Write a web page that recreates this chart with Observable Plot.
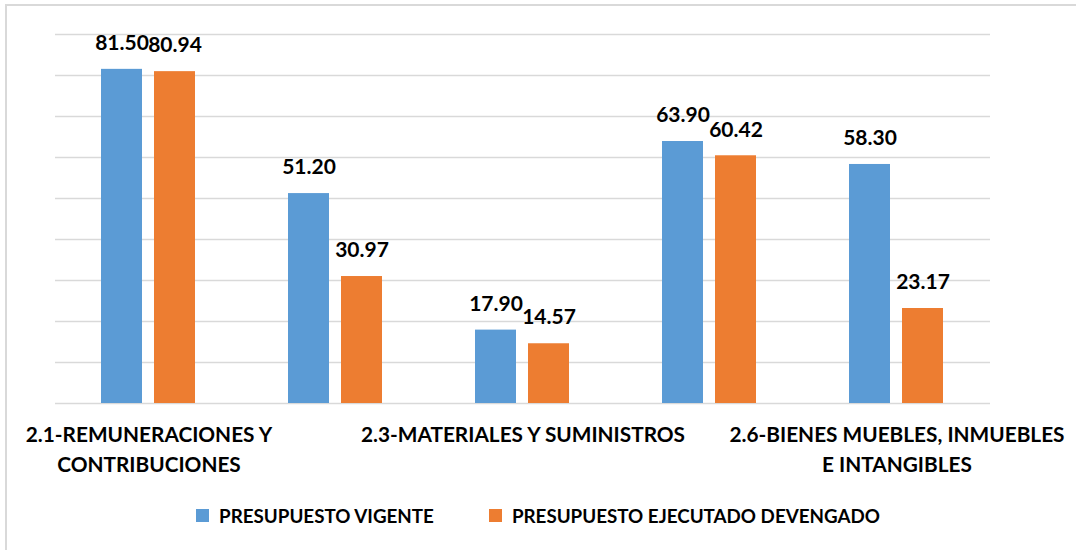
<!DOCTYPE html>
<html>
<head>
<meta charset="utf-8">
<script src="https://cdn.jsdelivr.net/npm/d3@7"></script>
<script src="https://cdn.jsdelivr.net/npm/@observablehq/plot@0.6"></script>
<style>
  html, body { margin: 0; padding: 0; background: #fff; }
  body { width: 1076px; height: 550px; position: relative; overflow: hidden; font-family: Lato, sans-serif; }
  #frame { position: absolute; left: 5px; top: 4px; width: 1200px; height: 700px;
           border-top: 2px solid #d9d9d9; border-left: 2px solid #d9d9d9; pointer-events: none; }
  #chart { position: absolute; left: 0; top: 0; }
  #legend { position: absolute; left: 0; top: 504px; width: 1076px; display: flex; justify-content: center;
            gap: 55px; font-weight: bold; font-size: 18.8px; color: #000; }
  .item { display: flex; align-items: center; gap: 10px; }
  .sw { width: 13px; height: 13px; display: inline-block; }
</style>
</head>
<body>
<div id="chart"></div>
<div id="legend"></div>
<div id="frame"></div>
<script>
const categories = ["2.1", "2.2", "2.3", "2.5", "2.6"];
const tickLabels = [
  "2.1-REMUNERACIONES Y\nCONTRIBUCIONES",
  "",
  "2.3-MATERIALES Y SUMINISTROS",
  "",
  "2.6-BIENES MUEBLES, INMUEBLES\nE INTANGIBLES"
];
const series = ["PRESUPUESTO VIGENTE", "PRESUPUESTO EJECUTADO DEVENGADO"];
const vigente = [81.50, 51.20, 17.90, 63.90, 58.30];
const devengado = [80.94, 30.97, 14.57, 60.42, 23.17];
const colors = ["#5B9BD5", "#ED7D31"];
const yTicks = [0, 10, 20, 30, 40, 50, 60, 70, 80, 90];

const data = categories.flatMap((c, i) => [
  {category: c, series: series[0], value: vigente[i]},
  {category: c, series: series[1], value: devengado[i]}
]);

const fmt = d3.format(".2f");

const chart = Plot.plot({
  width: 1076,
  height: 490,
  marginLeft: 53,
  marginRight: 84,
  marginTop: 34,
  marginBottom: 87,
  style: {fontFamily: "Lato, sans-serif", background: "transparent"},
  fx: {domain: categories, padding: 0, label: null, axis: null},
  x: {domain: series, paddingInner: 0.222, paddingOuter: 0.85, axis: null},
  y: {domain: [0, 90], axis: null},
  color: {domain: series, range: colors},
  marks: [
    Plot.gridY(yTicks, {stroke: "#d9d9d9", strokeOpacity: 1, strokeWidth: 1.5}),
    Plot.barY(data, {fx: "category", x: "series", y: "value", fill: "series"}),
    Plot.text(data, {fx: "category", x: "series", y: "value", text: d => fmt(d.value),
      dy: -26, fontWeight: "bold", fontSize: 21, fill: "#000"}),
    Plot.axisFx({anchor: "bottom", tickSize: 0, tickPadding: 17, label: null,
      tickFormat: d => tickLabels[categories.indexOf(d)],
      fontWeight: "bold", fontSize: 20.8, lineHeight: 1.45, fill: "#000"})
  ]
});
document.getElementById("chart").appendChild(chart);

const legend = document.getElementById("legend");
series.forEach((s, i) => {
  const item = document.createElement("div");
  item.className = "item";
  const sw = document.createElement("span");
  sw.className = "sw";
  sw.style.background = colors[i];
  const t = document.createElement("span");
  t.textContent = s;
  item.appendChild(sw);
  item.appendChild(t);
  legend.appendChild(item);
});
</script>
</body>
</html>
